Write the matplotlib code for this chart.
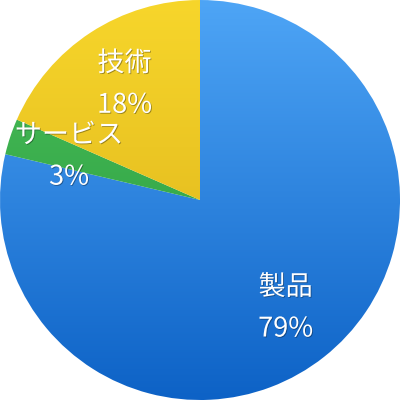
import matplotlib
matplotlib.use("Agg")
import matplotlib.pyplot as plt
import numpy as np
from matplotlib.colors import LinearSegmentedColormap
import matplotlib.patheffects as pe

categories = ["製品", "サービス", "技術"]
values = [78.6, 2.9, 18.4]
top_colors = ["#4ea5f6", "#4cc05a", "#f7d62b"]
bottom_colors = ["#0d62c6", "#23963c", "#d9ad18"]

plt.rcParams['font.family'] = ['Noto Sans CJK JP', 'DejaVu Sans']

fig = plt.figure(figsize=(4, 4), dpi=100)
ax = fig.add_axes([0, 0, 1, 1])
total = sum(values)
labels = [f"{c}\n{round(v / total * 100)}%" for c, v in zip(categories, values)]
wedges, texts = ax.pie(values, labels=labels, startangle=90, counterclock=False,
                       radius=1.0, labeldistance=0.69,
                       wedgeprops=dict(linewidth=0, edgecolor='none'))
ax.set_xlim(-1, 1)
ax.set_ylim(-1, 1)
ax.set_aspect('equal')
ax.axis('off')

grad = np.linspace(0, 1, 256).reshape(-1, 1)
for w, tc, bc in zip(wedges, top_colors, bottom_colors):
    w.set_facecolor('none')
    cmap = LinearSegmentedColormap.from_list('g', [tc, bc])
    im = ax.imshow(grad, cmap=cmap, extent=[-1, 1, -1, 1], origin='upper',
                   aspect='auto', zorder=1)
    im.set_clip_path(w)

for t in texts:
    t.set_ha('center')
    t.set_va('center')
    t.set_color('white')
    t.set_fontsize(19.5)
    t.set_linespacing(1.7)
    t.set_zorder(5)
    t.set_path_effects([pe.withSimplePatchShadow(offset=(0.6, -0.6), shadow_rgbFace='black', alpha=0.35)])

fig.savefig("out.png", dpi=100)
